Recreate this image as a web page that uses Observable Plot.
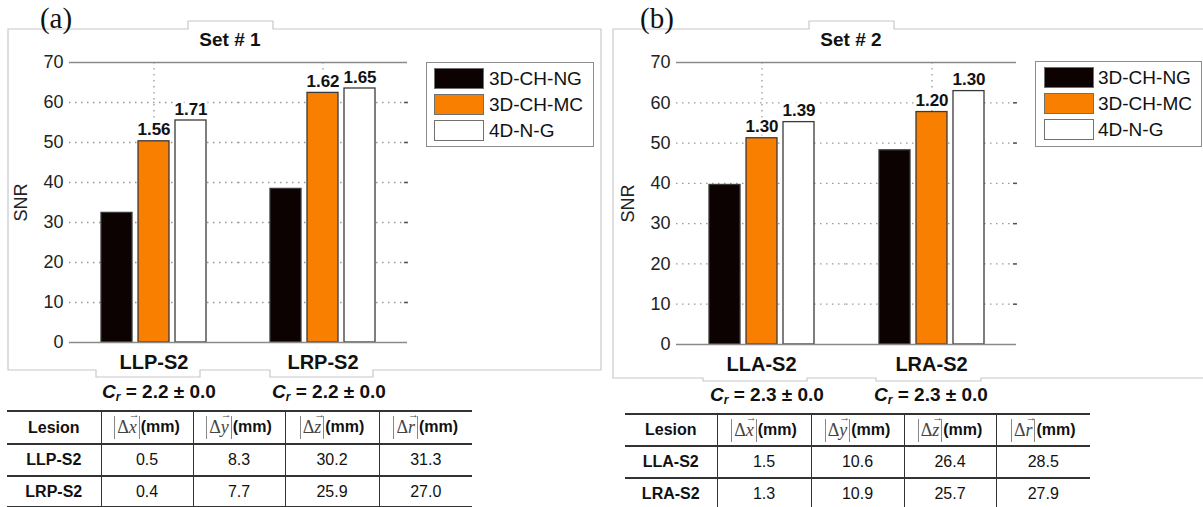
<!DOCTYPE html>
<html><head><meta charset="utf-8">
<script src="https://cdn.jsdelivr.net/npm/d3@7"></script>
<script src="https://cdn.jsdelivr.net/npm/@observablehq/plot@0.6"></script>
<style>
body{margin:0;background:#fff;}
#root{position:relative;width:1203px;height:507px;overflow:hidden;background:#fff;font-family:"Liberation Sans",Arial,sans-serif;color:#111;}
.c{position:absolute;transform:translate(-50%,-50%);white-space:nowrap;}
.panel{position:absolute;top:0;}
.legend{position:absolute;border:1.5px solid #8c8c8c;box-sizing:border-box;background:#fff;}
.legend .sw{position:absolute;left:7px;width:50px;height:21px;border:1.5px solid #707070;box-sizing:border-box;}
.legend .lt{position:absolute;left:62px;font-size:19px;line-height:21px;color:#111;white-space:nowrap;}
table.t{position:absolute;border-collapse:collapse;table-layout:fixed;font-size:16px;color:#111;}
table.t td{text-align:center;padding:0;border:1px solid #333;border-top:2px solid #333;border-bottom:2px solid #333;white-space:nowrap;}
table.t td:first-child{border-left:none;font-weight:bold;}
table.t td:last-child{border-right:none;}
table.t tr.h td{font-weight:bold;}
.m{font-family:"Liberation Serif","DejaVu Serif",serif;font-weight:normal;font-size:18px;color:#444;border-left:1px solid #888;border-right:1px solid #888;padding:0 2px;margin-right:1px;display:inline-block;line-height:23px;vertical-align:middle;}
.vec{position:relative;font-style:italic;display:inline-block;}
.vec .arr{position:absolute;left:0px;top:-7px;font-size:11px;line-height:11px;font-style:normal;color:#444;}
.cr{font-weight:bold;font-size:19px;}
.cr sub{font-size:12px;vertical-align:-3px;}
</style>
</head><body>
<div id="root">
<svg id="frames" width="1203" height="507" style="position:absolute;left:0;top:0">
  <path d="M8,370V29H188V21H273V29H601V370H373V377H270V370H200V377H96V370H8Z" fill="none" stroke="#c8c8c8" stroke-width="1.2"/>
  <path d="M1203,29H894V21H809V29H613V378H703V381H807V378H876V381H981V378H1203" fill="none" stroke="#c8c8c8" stroke-width="1.2"/>
</svg>
<div id="plotA" class="panel" style="left:0"></div>
<div id="plotB" class="panel" style="left:600px"></div>
</div>
<script>
// ---------- data ----------
const methods = ["3D-CH-NG", "3D-CH-MC", "4D-N-G"];
const methodColors = ["#0c0202", "#f97f00", "#ffffff"];
const yTicks = [0, 10, 20, 30, 40, 50, 60, 70];

const titleA = "Set # 1";
const lesionsA = ["LLP-S2", "LRP-S2"];
const snrA_NG = [32.4, 38.4];
const snrA_MC = [50.3, 62.4];
const snrA_4D = [55.5, 63.5];
const ratioA_MC = ["1.56", "1.62"];
const ratioA_4D = ["1.71", "1.65"];
const crA = ["2.2 \u00b1 0.0", "2.2 \u00b1 0.0"];
const dxA = ["0.5", "0.4"], dyA = ["8.3", "7.7"], dzA = ["30.2", "25.9"], drA = ["31.3", "27.0"];

const titleB = "Set # 2";
const lesionsB = ["LLA-S2", "LRA-S2"];
const snrB_NG = [39.6, 48.2];
const snrB_MC = [51.2, 57.7];
const snrB_4D = [55.2, 62.9];
const ratioB_MC = ["1.30", "1.20"];
const ratioB_4D = ["1.39", "1.30"];
const crB = ["2.3 \u00b1 0.0", "2.3 \u00b1 0.0"];
const dxB = ["1.5", "1.3"], dyB = ["10.6", "10.9"], dzB = ["26.4", "25.7"], drB = ["28.5", "27.9"];

const tableFirstHeader = "Lesion";
const tableVecs = ["x", "y", "z", "r"];
const tableUnit = "(mm)";

// ---------- chart ----------
function drawPanel(el, lesions, ng, mc, g4, rMC, rG4, dims) {
  const rows = lesions.flatMap((les, i) => [
    {lesion: les, method: methods[0], snr: ng[i], ratio: null},
    {lesion: les, method: methods[1], snr: mc[i], ratio: rMC[i]},
    {lesion: les, method: methods[2], snr: g4[i], ratio: rG4[i]}
  ]);
  const grid = {stroke: "#9a9a9a", strokeDasharray: "1.5,4.5", strokeWidth: 1.3};
  const chart = Plot.plot({
    ...dims,
    style: {fontFamily: "'Liberation Sans', Arial, sans-serif", fontSize: "18px", color: "#222", background: "transparent", overflow: "visible"},
    fx: {domain: lesions, padding: 0, label: null},
    x: {domain: methods, paddingInner: 0.17, paddingOuter: 0.83, axis: null},
    y: {domain: [0, 70], label: "SNR"},
    color: {domain: methods, range: methodColors},
    marks: [
      Plot.ruleY(yTicks.slice(1, -1), grid),
      Plot.ruleX([methods[1]], grid),
      Plot.barY(rows, {fx: "lesion", x: "method", y: "snr", fill: "method", stroke: "#3a3a3a", strokeWidth: 1.3}),
      Plot.text(rows.filter(d => d.ratio), {fx: "lesion", x: "method", y: "snr", text: "ratio", lineAnchor: "bottom", dy: -6,
        fontSize: 17, fontWeight: "bold", fill: "#111", stroke: "white", strokeWidth: 6}),
      Plot.ruleY([0, 70], {stroke: "#8a8a8a", strokeWidth: 1.6}),
      Plot.axisY(yTicks, {anchor: "left", tickSize: 0, tickPadding: 6, line: true, stroke: "#8a8a8a", strokeWidth: 1.6,
        label: "SNR", labelAnchor: "center", labelArrow: "none", labelOffset: 55, fontSize: 18}),
      Plot.axisY(yTicks, {anchor: "right", tickSize: 0, line: true, stroke: "#8a8a8a", strokeWidth: 1.6, tickFormat: () => "", label: null}),
      Plot.axisY(yTicks.slice(1, -1), {anchor: "right", tickSize: 4, dx: -4, stroke: "#555", strokeWidth: 1.5, tickFormat: () => "", label: null}),
      Plot.axisFx({anchor: "bottom", tickSize: 0, tickPadding: 12, label: null, fontSize: 20, fontWeight: "bold", fill: "#111"})
    ]
  });
  el.appendChild(chart);
}

drawPanel(document.getElementById("plotA"), lesionsA, snrA_NG, snrA_MC, snrA_4D, ratioA_MC, ratioA_4D,
  {width: 420, height: 380, marginLeft: 69, marginRight: 13, marginTop: 62, marginBottom: 38});
drawPanel(document.getElementById("plotB"), lesionsB, snrB_NG, snrB_MC, snrB_4D, ratioB_MC, ratioB_4D,
  {width: 430, height: 380, marginLeft: 76, marginRight: 14, marginTop: 62, marginBottom: 36});

// ---------- html annotations ----------
const root = document.getElementById("root");
function put(html, cx, cy, css) {
  const d = document.createElement("div");
  d.className = "c";
  d.innerHTML = html;
  d.style.left = cx + "px"; d.style.top = cy + "px";
  Object.assign(d.style, css || {});
  root.appendChild(d);
  return d;
}
// panel letters
put("(a)", 56, 18, {fontFamily: "'Liberation Serif', 'Times New Roman', serif", fontSize: "29px", color: "#111"});
put("(b)", 657, 18, {fontFamily: "'Liberation Serif', 'Times New Roman', serif", fontSize: "29px", color: "#111"});
// titles
put(titleA, 230, 40, {fontWeight: "bold", fontSize: "19px"});
put(titleB, 851, 40, {fontWeight: "bold", fontSize: "19px"});
// C_r labels
function crHtml(v) { return '<span class="cr"><i>C<sub>r</sub></i> = ' + v + '</span>'; }
put(crHtml(crA[0]), 159, 392); put(crHtml(crA[1]), 329, 392);
put(crHtml(crB[0]), 767, 395); put(crHtml(crB[1]), 931, 395);

// legends
function legend(left, top, w, h, swLeft, txtLeft) {
  const box = document.createElement("div");
  box.className = "legend";
  Object.assign(box.style, {left: left + "px", top: top + "px", width: w + "px", height: h + "px"});
  methods.forEach((m, i) => {
    const sw = document.createElement("div");
    sw.className = "sw";
    sw.style.left = swLeft + "px";
    sw.style.top = (5 + i * 26) + "px";
    sw.style.background = methodColors[i];
    box.appendChild(sw);
    const t = document.createElement("div");
    t.className = "lt";
    t.style.left = txtLeft + "px";
    t.style.top = (5 + i * 26) + "px";
    t.textContent = m;
    box.appendChild(t);
  });
  root.appendChild(box);
}
legend(426, 62, 168, 85, 7, 62);
legend(1035, 61, 167, 86, 8, 62);

// tables
function headerHtml(v) { return '<span class="m">\u0394<span class="vec">' + v + '<span class="arr">\u2192</span></span></span>' + tableUnit; }
function table(left, top, colW, rowH, lesions, cols) {
  const t = document.createElement("table");
  t.className = "t";
  t.style.left = left + "px"; t.style.top = top + "px";
  t.style.width = colW.reduce((a, b) => a + b, 0) + "px";
  const cg = document.createElement("colgroup");
  colW.forEach(w => { const c = document.createElement("col"); c.style.width = w + "px"; cg.appendChild(c); });
  t.appendChild(cg);
  const hr = document.createElement("tr");
  hr.className = "h";
  hr.style.height = rowH[0] + "px";
  hr.innerHTML = "<td>" + tableFirstHeader + "</td>" + tableVecs.map(v => "<td>" + headerHtml(v) + "</td>").join("");
  t.appendChild(hr);
  lesions.forEach((les, i) => {
    const tr = document.createElement("tr");
    tr.style.height = rowH[i + 1] + "px";
    tr.innerHTML = "<td>" + les + "</td>" + cols.map(c => "<td>" + c[i] + "</td>").join("");
    t.appendChild(tr);
  });
  root.appendChild(t);
}
table(7, 410, [94, 92, 92, 94, 93], [33, 32, 31], lesionsA, [dxA, dyA, dzA, drA]);
table(625, 413, [92, 94, 93, 92, 94], [32, 32, 32], lesionsB, [dxB, dyB, dzB, drB]);
</script>
</body></html>
